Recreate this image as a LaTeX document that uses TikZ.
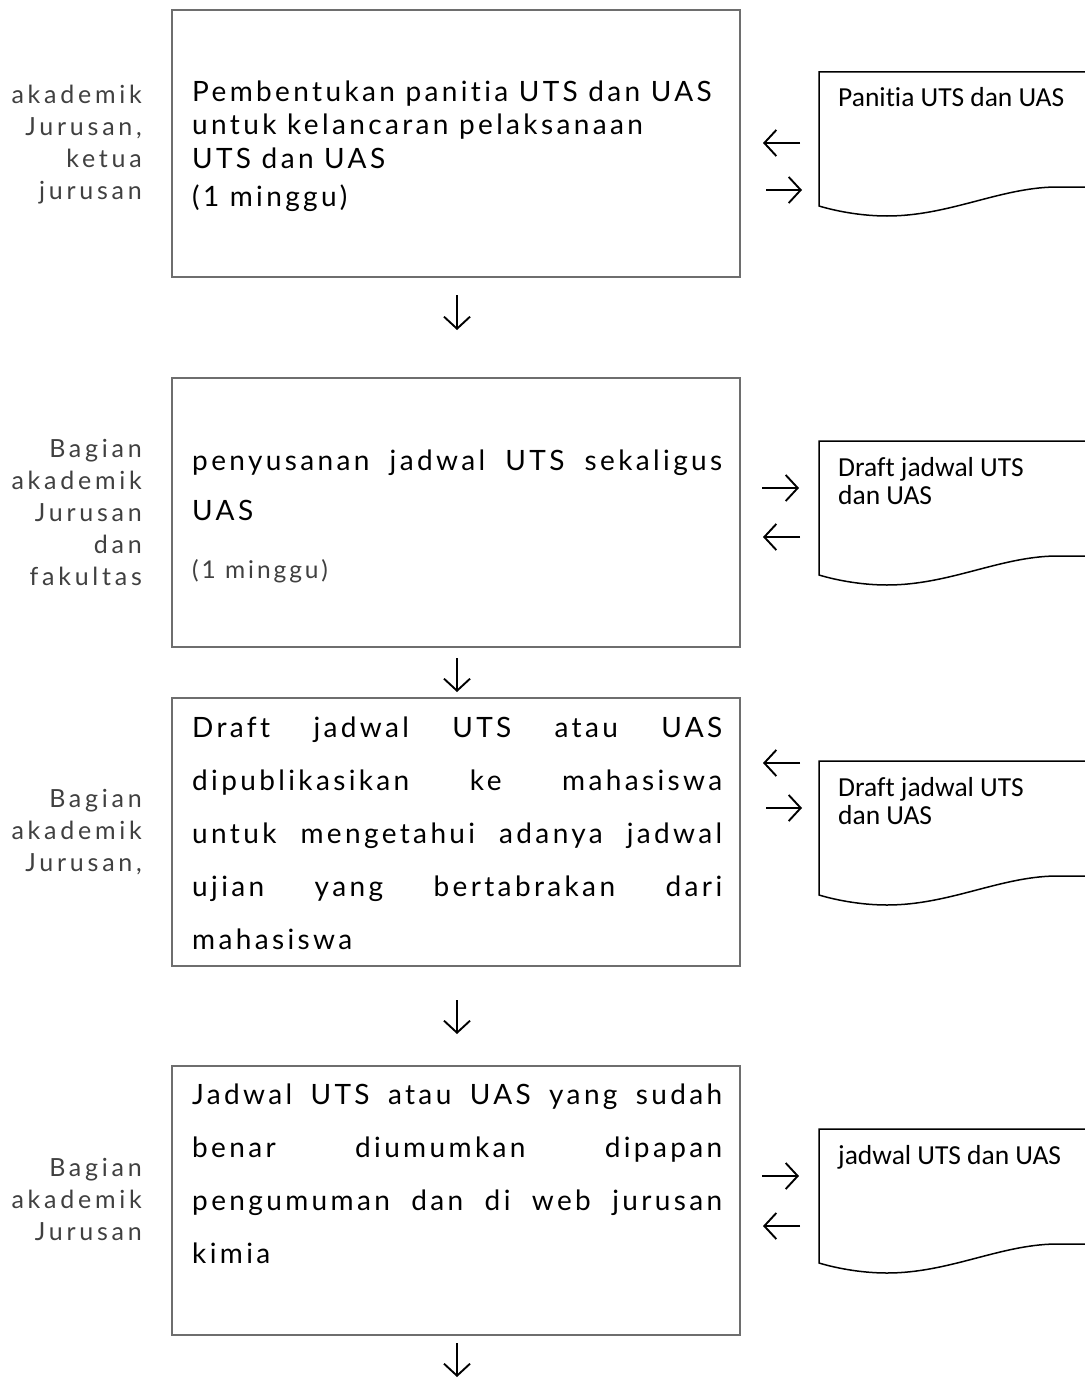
\documentclass[tikz,border=0pt]{standalone}
\usepackage{fontspec}
\usetikzlibrary{arrows.meta}
\newfontfamily\mainfnt{Lato}[LetterSpace=12,Ligatures=NoCommon]
\newfontfamily\labfnt{Lato}[LetterSpace=15,Ligatures=NoCommon]
\newfontfamily\docfnt{Carlito}[Ligatures=NoCommon]
\definecolor{boxgray}{HTML}{6E6E6E}
\definecolor{labgray}{HTML}{404040}
\definecolor{txtblack}{HTML}{000000}
\newcommand{\jline}[1]{\makebox[530pt][s]{#1}}
\tikzset{
  mainbox/.style={draw=boxgray, line width=1.8pt, rectangle, minimum width=568pt, inner sep=0pt},
  boxtext/.style={anchor=base west, inner sep=0pt, align=left, text=txtblack},
  labtext/.style={anchor=base east, inner sep=0pt, align=right, text=labgray, font=\labfnt\fontsize{25}{32}\selectfont},
  doctext/.style={anchor=base west, inner sep=0pt, align=left, text=black, font=\docfnt\fontsize{27.5}{28}\selectfont},
  flowarrow/.style={line width=1.9pt, -{Straight Barb[length=12pt,width=26pt]}},
  docshape/.pic={
    \draw[line width=1.5pt, black] (0,0) -- (300,0) -- (300,115) -- (236,115)
      .. controls (180,116) and (130,144) .. (68,144)
      .. controls (45,144) and (20,140) .. (0,134) -- cycle;
  }
}
\begin{document}
\begin{tikzpicture}[x=1pt,y=-1pt]
\useasboundingbox (0,0) rectangle (1084,1378);
% main boxes
\node[mainbox, minimum height=267pt] (b1) at (456,143.5) {};
\node[mainbox, minimum height=269pt] (b2) at (456,512.5) {};
\node[mainbox, minimum height=268pt] (b3) at (456,832) {};
\node[mainbox, minimum height=269pt] (b4) at (456,1200.5) {};
% box texts (anchored at the baseline of their last line)
\node[boxtext, font=\mainfnt\fontsize{28}{33.5}\selectfont] (t1) at (192,206)
  {Pembentukan panitia UTS dan UAS\\untuk kelancaran pelaksanaan\\UTS dan UAS\\[4.5pt](1 minggu)};
\node[boxtext, font=\mainfnt\fontsize{28}{50}\selectfont] (t2) at (192,520)
  {\jline{penyusanan jadwal UTS sekaligus}\\UAS};
\node[boxtext, text=labgray, font=\mainfnt\fontsize{24.5}{26}\selectfont] (t2b) at (192,578) {(1 minggu)};
\node[boxtext, font=\mainfnt\fontsize{28}{53}\selectfont] (t3) at (192,949)
  {\jline{Draft jadwal UTS atau UAS}\\\jline{dipublikasikan ke mahasiswa}\\\jline{untuk mengetahui adanya jadwal}\\\jline{ujian yang bertabrakan dari}\\mahasiswa};
\node[boxtext, font=\mainfnt\fontsize{28}{52.7}\selectfont] (t4) at (192,1263)
  {\jline{Jadwal UTS atau UAS yang sudah}\\\jline{benar diumumkan dipapan}\\\jline{pengumuman dan di web jurusan}\\kimia};
% left labels
\node[labtext] (l1) at (142,199) {akademik\\Jurusan,\\ketua\\jurusan};
\node[labtext] (l2) at (142,585) {Bagian\\akademik\\Jurusan\\dan\\fakultas};
\node[labtext] (l3) at (142,871) {Bagian\\akademik\\Jurusan,};
\node[labtext] (l4) at (142,1240) {Bagian\\akademik\\Jurusan};
% documents
\pic (d1) at (819,72) {docshape};
\pic (d2) at (819,441) {docshape};
\pic (d3) at (819,761) {docshape};
\pic (d4) at (819,1129) {docshape};
\node[doctext] (dt1) at (838,107) {Panitia UTS dan UAS};
\node[doctext] (dt2) at (838,504) {Draft jadwal UTS\\dan UAS};
\node[doctext] (dt3) at (838,824) {Draft jadwal UTS\\dan UAS};
\node[doctext] (dt4) at (838,1164) {jadwal UTS dan UAS};
% arrow end points
\coordinate (a1s) at (800,143); \coordinate (a1e) at (763,143);
\coordinate (a2s) at (766,190); \coordinate (a2e) at (802,190);
\coordinate (a3s) at (762,488); \coordinate (a3e) at (799,488);
\coordinate (a4s) at (800,537); \coordinate (a4e) at (763,537);
\coordinate (a5s) at (800,763); \coordinate (a5e) at (763,763);
\coordinate (a6s) at (766,808); \coordinate (a6e) at (802,808);
\coordinate (a7s) at (762,1176); \coordinate (a7e) at (799,1176);
\coordinate (a8s) at (800,1226); \coordinate (a8e) at (763,1226);
\coordinate (v1s) at (457,295); \coordinate (v1e) at (457,330);
\coordinate (v2s) at (457,658); \coordinate (v2e) at (457,692);
\coordinate (v3s) at (457,1000); \coordinate (v3e) at (457,1034);
\coordinate (v4s) at (457,1343); \coordinate (v4e) at (457,1377);
\foreach \a in {a1,a2,a3,a4,a5,a6,a7,a8,v1,v2,v3,v4}
  \draw[flowarrow] (\a s) -- (\a e);
\end{tikzpicture}
\end{document}
